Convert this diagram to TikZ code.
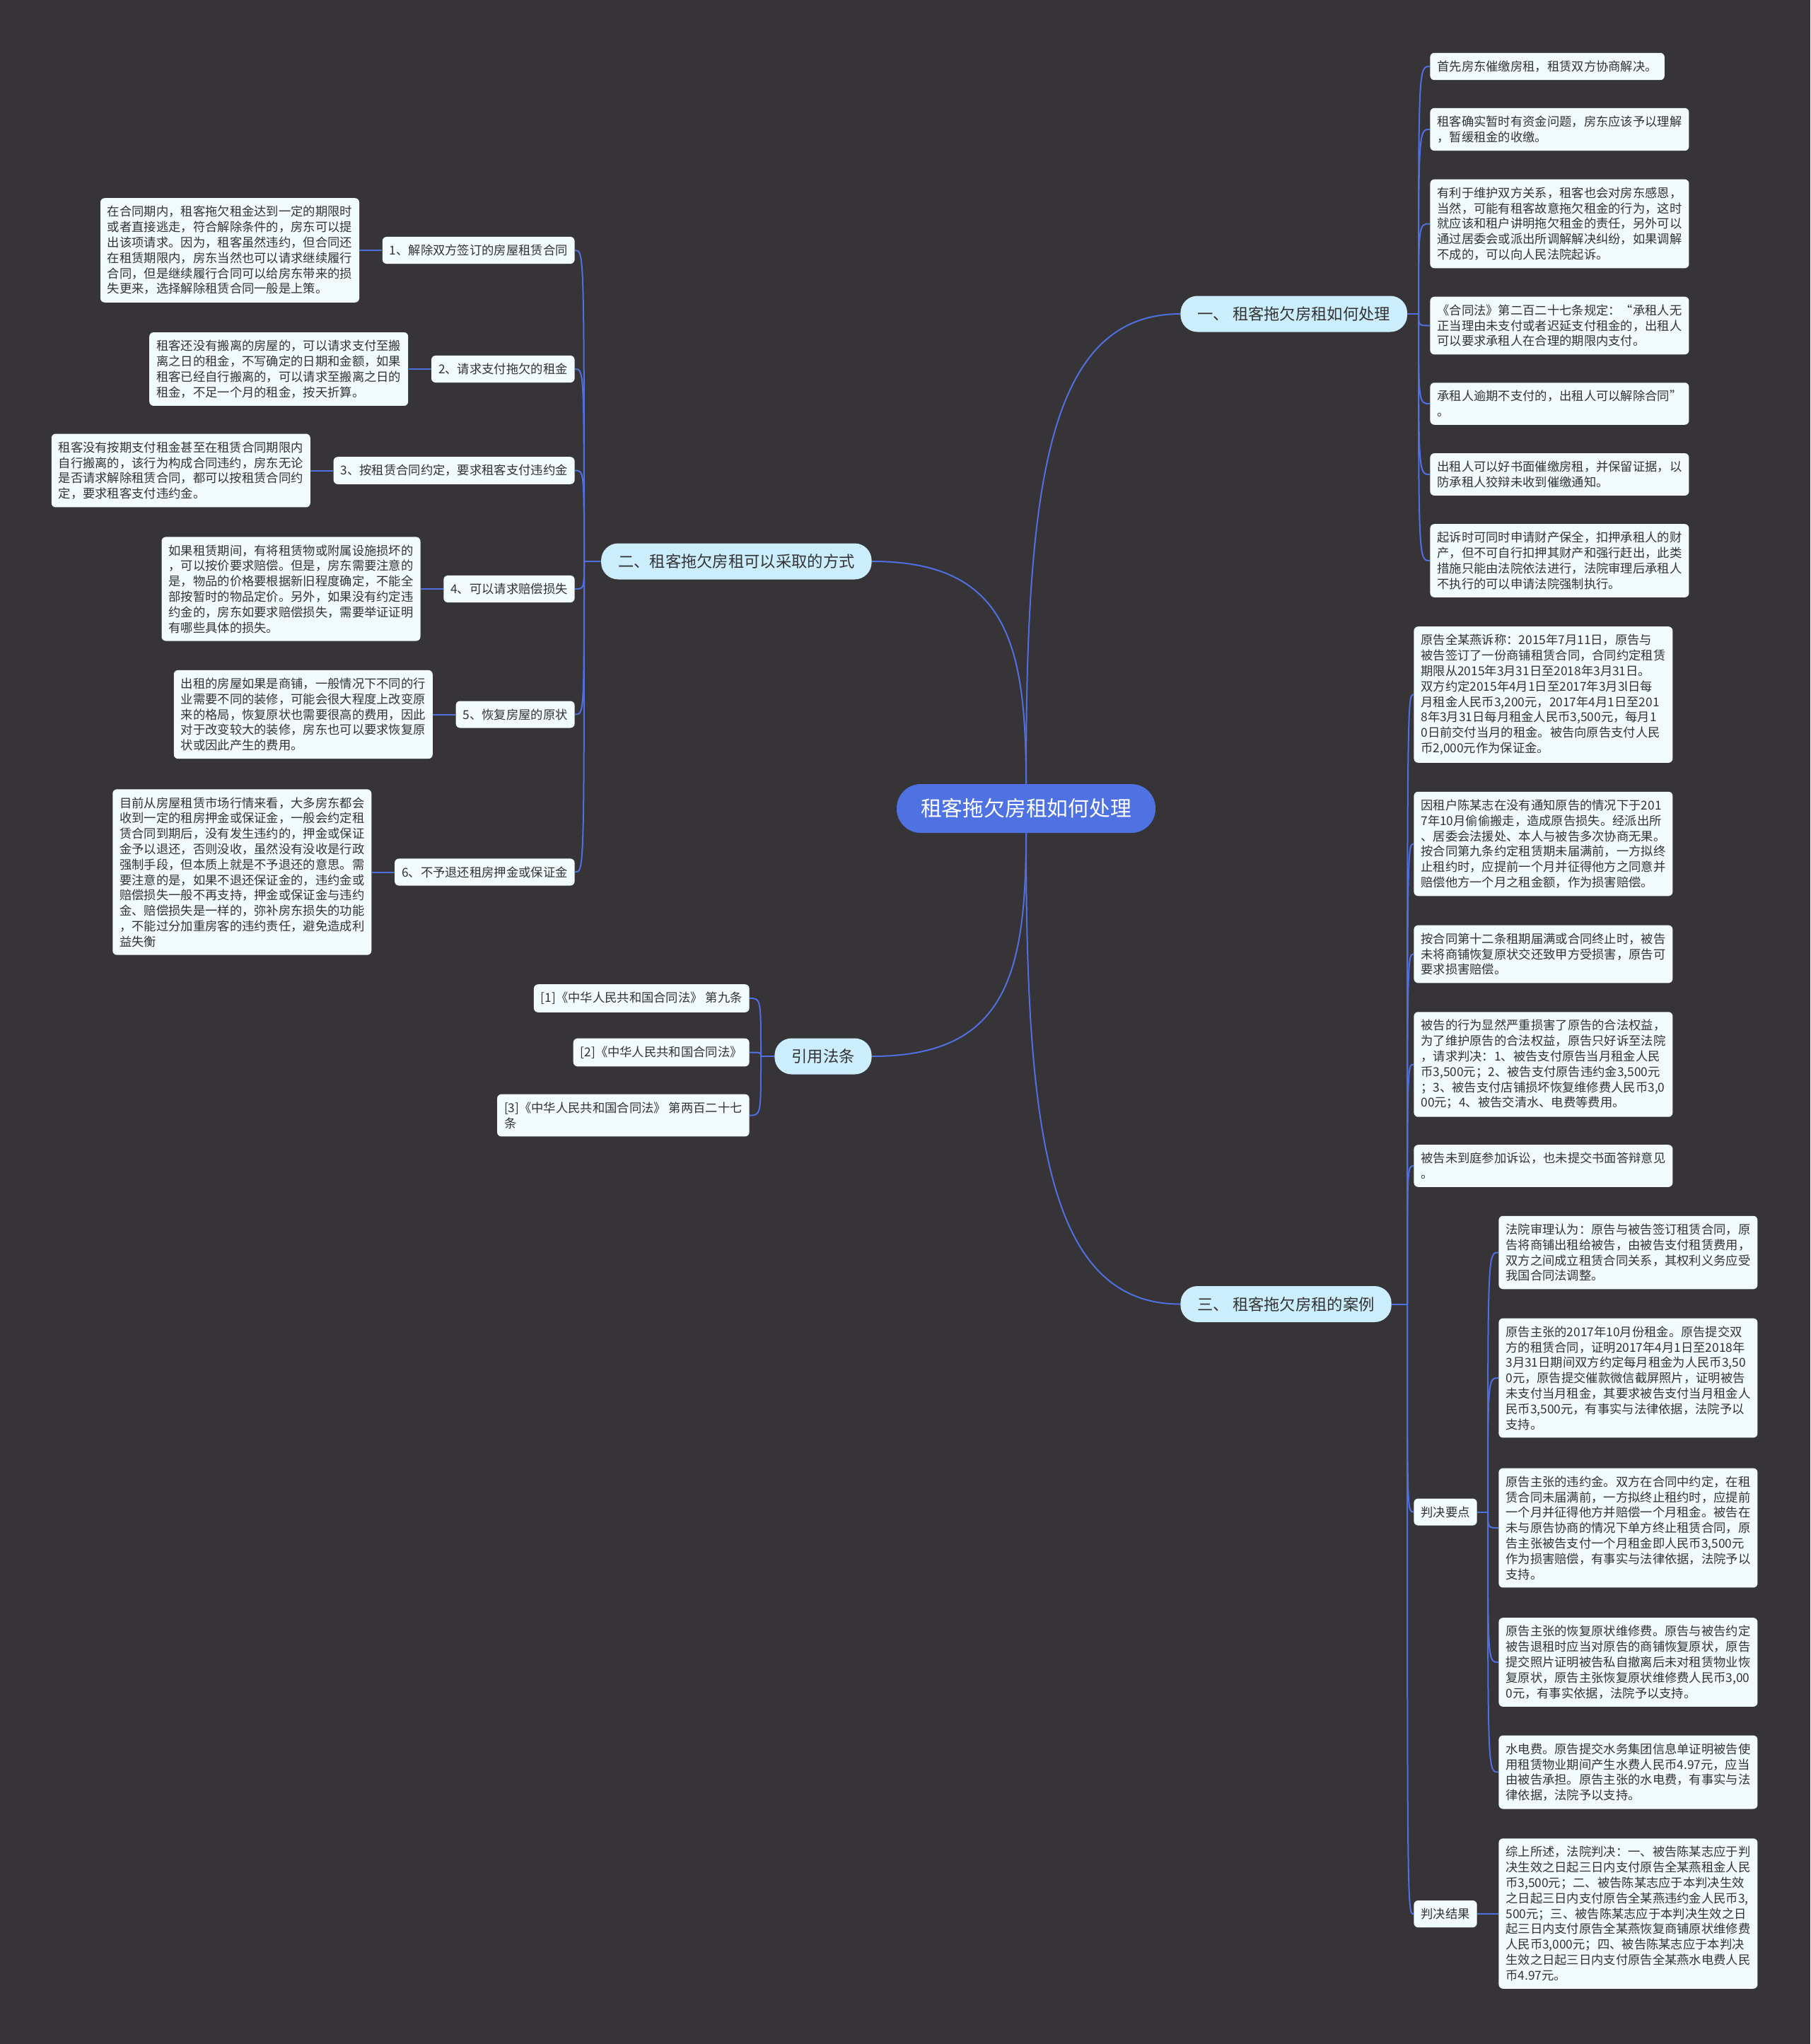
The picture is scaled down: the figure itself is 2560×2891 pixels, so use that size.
\documentclass[tikz,border=0pt]{standalone}
\usepackage{fontspec}
\newfontfamily\cjk{Noto Sans CJK SC}
\usepackage{tikz}
\usetikzlibrary{positioning}
\definecolor{bgdark}{RGB}{54,52,54}
\definecolor{rootblue}{RGB}{79,114,227}
\definecolor{linkblue}{RGB}{80,112,225}
\definecolor{branchfill}{RGB}{204,238,252}
\definecolor{leaffill}{RGB}{241,250,253}
\definecolor{leaftext}{RGB}{51,51,51}

\begin{document}
\begin{tikzpicture}[
  x=0.5pt, y=-0.5pt,
  rootbox/.style={fill=rootblue, text=white, rounded corners=17pt, minimum height=34.5pt, inner xsep=17pt, font=\cjk\fontsize{14.9pt}{18pt}\selectfont},
  branchbox/.style={fill=branchfill, text=leaftext, rounded corners=12pt, minimum height=25.5pt, inner xsep=12pt, font=\cjk\fontsize{11.15pt}{13pt}\selectfont},
  leafbox/.style={fill=leaffill, text=leaftext, rounded corners=3pt, align=left, inner xsep=5pt, inner ysep=5.5pt, font=\cjk\fontsize{8.65pt}{10.9pt}\selectfont},
  link/.style={draw=linkblue, line width=1pt}
]
\fill[bgdark] (0,0) rectangle (2560,2891);
\useasboundingbox (0,0) rectangle (2560,2891);

\node[rootbox] (root) at (1451,1143.5) {租客拖欠房租如何处理};
\node[branchbox, anchor=west] (b1) at (1669,444) {一、 租客拖欠房租如何处理};
\node[branchbox, anchor=east] (b2) at (1233,794) {二、租客拖欠房租可以采取的方式};
\node[branchbox, anchor=east] (b4) at (1233,1494) {引用法条};
\node[branchbox, anchor=west] (b3) at (1669,1844.5) {三、 租客拖欠房租的案例};

\draw[link] (root.north) .. controls +(0,-420) and +(-189,0) .. (b1.west);
\draw[link] (root.south) .. controls +(0,420) and +(-189,0) .. (b3.west);
\draw[link] (root.north) .. controls +(0,-200) and +(190,0) .. (b2.east);
\draw[link] (root.south) .. controls +(0,200) and +(190,0) .. (b4.east);

% branch one
\node[leafbox, anchor=west] (r1) at (2022,94) {首先房东催缴房租，租赁双方协商解决。};
\node[leafbox, anchor=west] (r2) at (2022,183) {租客确实暂时有资金问题，房东应该予以理解\\，暂缓租金的收缴。};
\node[leafbox, anchor=west] (r3) at (2022,316.5) {有利于维护双方关系，租客也会对房东感恩，\\当然，可能有租客故意拖欠租金的行为，这时\\就应该和租户讲明拖欠租金的责任，另外可以\\通过居委会或派出所调解解决纠纷，如果调解\\不成的，可以向人民法院起诉。};
\node[leafbox, anchor=west] (r4) at (2022,460.5) {《合同法》第二百二十七条规定：“承租人无\\正当理由未支付或者迟延支付租金的，出租人\\可以要求承租人在合理的期限内支付。};
\node[leafbox, anchor=west] (r5) at (2022,571) {承租人逾期不支付的，出租人可以解除合同”\\。};
\node[leafbox, anchor=west] (r6) at (2022,671) {出租人可以好书面催缴房租，并保留证据，以\\防承租人狡辩未收到催缴通知。};
\node[leafbox, anchor=west] (r7) at (2022,793) {起诉时可同时申请财产保全，扣押承租人的财\\产，但不可自行扣押其财产和强行赶出，此类\\措施只能由法院依法进行，法院审理后承租人\\不执行的可以申请法院强制执行。};
\coordinate (b1j) at (2006,444);
\draw[link] (b1.east) -- (b1j);
\foreach \n in {r1,r2,r3,r4,r5,r6,r7}
  \draw[link] (b1j) .. controls (b1j |- \n) .. (\n.west);

% branch two
\node[leafbox, anchor=east] (m1) at (813,354) {1、解除双方签订的房屋租赁合同};
\node[leafbox, anchor=east] (m2) at (813,522) {2、请求支付拖欠的租金};
\node[leafbox, anchor=east] (m3) at (813,665.5) {3、按租赁合同约定，要求租客支付违约金};
\node[leafbox, anchor=east] (m4) at (813,833) {4、可以请求赔偿损失};
\node[leafbox, anchor=east] (m5) at (813,1010.5) {5、恢复房屋的原状};
\node[leafbox, anchor=east] (m6) at (813,1233.5) {6、不予退还租房押金或保证金};
\node[leafbox, left=16pt of m1] (l1) {在合同期内，租客拖欠租金达到一定的期限时\\或者直接逃走，符合解除条件的，房东可以提\\出该项请求。因为，租客虽然违约，但合同还\\在租赁期限内，房东当然也可以请求继续履行\\合同，但是继续履行合同可以给房东带来的损\\失更来，选择解除租赁合同一般是上策。};
\node[leafbox, left=16pt of m2] (l2) {租客还没有搬离的房屋的，可以请求支付至搬\\离之日的租金，不写确定的日期和金额，如果\\租客已经自行搬离的，可以请求至搬离之日的\\租金，不足一个月的租金，按天折算。};
\node[leafbox, left=16pt of m3] (l3) {租客没有按期支付租金甚至在租赁合同期限内\\自行搬离的，该行为构成合同违约，房东无论\\是否请求解除租赁合同，都可以按租赁合同约\\定，要求租客支付违约金。};
\node[leafbox, left=16pt of m4] (l4) {如果租赁期间，有将租赁物或附属设施损坏的\\，可以按价要求赔偿。但是，房东需要注意的\\是，物品的价格要根据新旧程度确定，不能全\\部按暂时的物品定价。另外，如果没有约定违\\约金的，房东如要求赔偿损失，需要举证证明\\有哪些具体的损失。};
\node[leafbox, left=16pt of m5] (l5) {出租的房屋如果是商铺，一般情况下不同的行\\业需要不同的装修，可能会很大程度上改变原\\来的格局，恢复原状也需要很高的费用，因此\\对于改变较大的装修，房东也可以要求恢复原\\状或因此产生的费用。};
\node[leafbox, left=16pt of m6] (l6) {目前从房屋租赁市场行情来看，大多房东都会\\收到一定的租房押金或保证金，一般会约定租\\赁合同到期后，没有发生违约的，押金或保证\\金予以退还，否则没收，虽然没有没收是行政\\强制手段，但本质上就是不予退还的意思。需\\要注意的是，如果不退还保证金的，违约金或\\赔偿损失一般不再支持，押金或保证金与违约\\金、赔偿损失是一样的，弥补房东损失的功能\\，不能过分加重房客的违约责任，避免造成利\\益失衡};
\coordinate (b2j) at (826,794);
\draw[link] (b2.west) -- (b2j);
\foreach \n in {m1,m2,m3,m4,m5,m6}
  \draw[link] (b2j) .. controls (b2j |- \n) .. (\n.east);
\foreach \i in {1,...,6}
  \draw[link] (l\i) -- (m\i);

% cited laws
\node[leafbox, anchor=east] (c1) at (1060,1412) {[1]《中华人民共和国合同法》 第九条};
\node[leafbox, anchor=east] (c2) at (1060,1488.5) {[2]《中华人民共和国合同法》};
\node[leafbox, anchor=east] (c3) at (1060,1577.5) {[3]《中华人民共和国合同法》 第两百二十七\\条};
\coordinate (b4j) at (1076,1494);
\draw[link] (b4.west) -- (b4j);
\foreach \n in {c1,c2,c3}
  \draw[link] (b4j) .. controls (b4j |- \n) .. (\n.east);

% branch three
\node[leafbox, anchor=west] (s1) at (1999,982.5) {原告全某燕诉称：2015年7月11日，原告与\\被告签订了一份商铺租赁合同，合同约定租赁\\期限从2015年3月31日至2018年3月31日。\\双方约定2015年4月1日至2017年3月3l日每\\月租金人民币3,200元，2017年4月1日至201\\8年3月31日每月租金人民币3,500元，每月1\\0日前交付当月的租金。被告向原告支付人民\\币2,000元作为保证金。};
\node[leafbox, anchor=west] (s2) at (1999,1193.5) {因租户陈某志在没有通知原告的情况下于201\\7年10月偷偷搬走，造成原告损失。经派出所\\、居委会法援处、本人与被告多次协商无果。\\按合同第九条约定租赁期未届满前，一方拟终\\止租约时，应提前一个月并征得他方之同意并\\赔偿他方一个月之租金额，作为损害赔偿。};
\node[leafbox, anchor=west] (s3) at (1999,1349.5) {按合同第十二条租期届满或合同终止时，被告\\未将商铺恢复原状交还致甲方受损害，原告可\\要求损害赔偿。};
\node[leafbox, anchor=west] (s4) at (1999,1505.5) {被告的行为显然严重损害了原告的合法权益，\\为了维护原告的合法权益，原告只好诉至法院\\，请求判决：1、被告支付原告当月租金人民\\币3,500元；2、被告支付原告违约金3,500元\\；3、被告支付店铺损坏恢复维修费人民币3,0\\00元；4、被告交清水、电费等费用。};
\node[leafbox, anchor=west] (s5) at (1999,1649) {被告未到庭参加诉讼，也未提交书面答辩意见\\。};
\node[leafbox, anchor=west] (jd) at (1999,2138.5) {判决要点};
\node[leafbox, anchor=west] (jg) at (1999,2707) {判决结果};
\coordinate (b3j) at (1990,1844.5);
\draw[link] (b3.east) -- (b3j);
\foreach \n in {s1,s2,s3,s4,s5,jd,jg}
  \draw[link] (b3j) .. controls (b3j |- \n) .. (\n.west);

\node[leafbox, anchor=west] (d1) at (2119,1771.5) {法院审理认为：原告与被告签订租赁合同，原\\告将商铺出租给被告，由被告支付租赁费用，\\双方之间成立租赁合同关系，其权利义务应受\\我国合同法调整。};
\node[leafbox, anchor=west] (d2) at (2119,1949) {原告主张的2017年10月份租金。原告提交双\\方的租赁合同，证明2017年4月1日至2018年\\3月31日期间双方约定每月租金为人民币3,50\\0元，原告提交催款微信截屏照片，证明被告\\未支付当月租金，其要求被告支付当月租金人\\民币3,500元，有事实与法律依据，法院予以\\支持。};
\node[leafbox, anchor=west] (d3) at (2119,2161) {原告主张的违约金。双方在合同中约定，在租\\赁合同未届满前，一方拟终止租约时，应提前\\一个月并征得他方并赔偿一个月租金。被告在\\未与原告协商的情况下单方终止租赁合同，原\\告主张被告支付一个月租金即人民币3,500元\\作为损害赔偿，有事实与法律依据，法院予以\\支持。};
\node[leafbox, anchor=west] (d4) at (2119,2351) {原告主张的恢复原状维修费。原告与被告约定\\被告退租时应当对原告的商铺恢复原状，原告\\提交照片证明被告私自撤离后未对租赁物业恢\\复原状，原告主张恢复原状维修费人民币3,00\\0元，有事实依据，法院予以支持。};
\node[leafbox, anchor=west] (d5) at (2119,2506.5) {水电费。原告提交水务集团信息单证明被告使\\用租赁物业期间产生水费人民币4.97元，应当\\由被告承担。原告主张的水电费，有事实与法\\律依据，法院予以支持。};
\node[leafbox, anchor=west] (g1) at (2119,2706.5) {综上所述，法院判决：一、被告陈某志应于判\\决生效之日起三日内支付原告全某燕租金人民\\币3,500元；二、被告陈某志应于本判决生效\\之日起三日内支付原告全某燕违约金人民币3,\\500元；三、被告陈某志应于本判决生效之日\\起三日内支付原告全某燕恢复商铺原状维修费\\人民币3,000元；四、被告陈某志应于本判决\\生效之日起三日内支付原告全某燕水电费人民\\币4.97元。};
\coordinate (jdj) at (2104,2138.5);
\draw[link] (jd.east) -- (jdj);
\foreach \n in {d1,d2,d3,d4,d5}
  \draw[link] (jdj) .. controls (jdj |- \n) .. (\n.west);
\draw[link] (jg) -- (g1);
\end{tikzpicture}
\end{document}
